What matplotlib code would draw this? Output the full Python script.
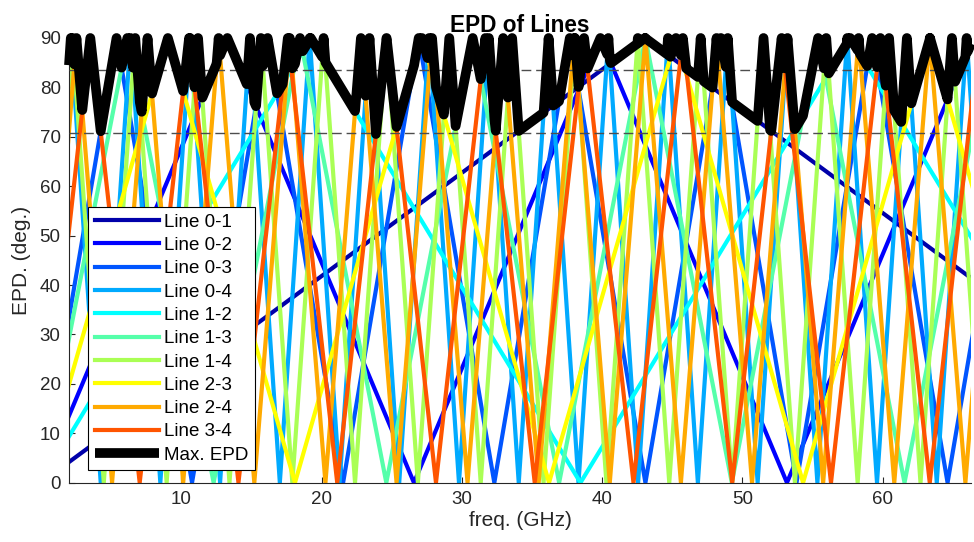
import matplotlib
matplotlib.use("Agg")
import matplotlib.pyplot as plt
import numpy as np

plt.rcParams['font.family'] = ['Liberation Sans', 'DejaVu Sans']

# Turning points (freq in GHz, EPD in deg) of each line pair
f_01 = [0, 43.06, 86.12]
e_01 = [0, 90, 0]
f_02 = [0, 13.29, 26.59, 39.88, 53.18, 66.47]
e_02 = [0, 90, 0, 90, 0, 90]
f_03 = [0, 5.39, 10.77, 16.16, 21.54, 26.93, 32.32, 37.70, 43.09, 48.47, 53.86,
        59.25, 64.63, 70.02]
e_03 = [0, 90, 0, 90, 0, 90, 0, 90, 0, 90, 0, 90, 0, 90]
f_04 = [0, 2.13, 4.26, 6.39, 8.51, 10.64, 12.77, 14.90, 17.03, 19.16, 21.29, 23.42,
        25.54, 27.67, 29.80, 31.93, 34.06, 36.19, 38.32, 40.45, 42.57, 44.70, 46.83,
        48.96, 51.09, 53.22, 55.35, 57.48, 59.60, 61.73, 63.86, 65.99, 68.12]
e_04 = [0, 90, 0, 90, 0, 90, 0, 90, 0, 90, 0, 90, 0, 90, 0, 90, 0, 90, 0, 90, 0,
        90, 0, 90, 0, 90, 0, 90, 0, 90, 0, 90, 0]
f_12 = [0, 19.23, 38.46, 57.69, 76.92]
e_12 = [0, 90, 0, 90, 0]
f_13 = [0, 6.16, 12.31, 18.47, 24.62, 30.78, 36.94, 43.09, 49.25, 55.40, 61.56, 67.72]
e_13 = [0, 90, 0, 90, 0, 90, 0, 90, 0, 90, 0, 90]
f_14 = [0, 2.24, 4.48, 6.72, 8.96, 11.20, 13.44, 15.68, 17.92, 20.15, 22.39, 24.63,
        26.87, 29.11, 31.35, 33.59, 35.83, 38.07, 40.31, 42.55, 44.79, 47.03, 49.27,
        51.51, 53.75, 55.98, 58.22, 60.46, 62.70, 64.94, 67.18]
e_14 = [0, 90, 0, 90, 0, 90, 0, 90, 0, 90, 0, 90, 0, 90, 0, 90, 0, 90, 0, 90, 0,
        90, 0, 90, 0, 90, 0, 90, 0, 90, 0]
f_23 = [0, 9.05, 18.11, 27.16, 36.22, 45.27, 54.33, 63.38, 72.43]
e_23 = [0, 90, 0, 90, 0, 90, 0, 90, 0]
f_24 = [0, 2.53, 5.07, 7.60, 10.14, 12.67, 15.21, 17.74, 20.28, 22.81, 25.35, 27.88,
        30.41, 32.95, 35.48, 38.02, 40.55, 43.09, 45.62, 48.16, 50.69, 53.22, 55.76,
        58.29, 60.83, 63.36, 65.90, 68.43]
e_24 = [0, 90, 0, 90, 0, 90, 0, 90, 0, 90, 0, 90, 0, 90, 0, 90, 0, 90, 0, 90, 0,
        90, 0, 90, 0, 90, 0, 90]
f_34 = [0, 3.52, 7.04, 10.56, 14.08, 17.60, 21.12, 24.64, 28.16, 31.68, 35.20, 38.72,
        42.24, 45.76, 49.28, 52.80, 56.32, 59.84, 63.36, 66.88]
e_34 = [0, 90, 0, 90, 0, 90, 0, 90, 0, 90, 0, 90, 0, 90, 0, 90, 0, 90, 0, 90]

labels = ['Line 0-1', 'Line 0-2', 'Line 0-3', 'Line 0-4', 'Line 1-2',
          'Line 1-3', 'Line 1-4', 'Line 2-3', 'Line 2-4', 'Line 3-4']
freqs = [f_01, f_02, f_03, f_04, f_12, f_13, f_14, f_23, f_24, f_34]
epds = [e_01, e_02, e_03, e_04, e_12, e_13, e_14, e_23, e_24, e_34]

f_min, f_max = 2.0, 66.3
ref_levels = [83.6, 70.7]
x_ticks = [10, 20, 30, 40, 50, 60]
y_ticks = [0, 10, 20, 30, 40, 50, 60, 70, 80, 90]

# MATLAB jet(10)
colors = [(0, 0, 0.6667), (0, 0, 1), (0, 0.3333, 1), (0, 0.6667, 1), (0, 1, 1),
          (0.3333, 1, 0.6667), (0.6667, 1, 0.3333), (1, 1, 0), (1, 0.6667, 0),
          (1, 0.3333, 0)]

fig = plt.figure(figsize=(9.74, 5.42), dpi=100)
ax = fig.add_axes([69/974, 1 - 482.7/542, (971 - 69)/974, (482.7 - 38)/542])

for f, e, c, lab in zip(freqs, epds, colors, labels):
    ax.plot(f, e, color=c, lw=3.0, label=lab, zorder=2,
            solid_joinstyle='round')

# maximum EPD over all lines
fgrid = np.linspace(f_min, f_max, 6431)
stack = np.vstack([np.interp(fgrid, f, e) for f, e in zip(freqs, epds)])
max_epd = stack.max(axis=0)

for lvl in ref_levels:
    ax.axhline(lvl, color='#4d4d4d', lw=1.0, ls=(0, (7, 3.5)), zorder=3)

ax.plot(fgrid, max_epd, color='black', lw=7, label='Max. EPD', zorder=4,
        clip_on=False, solid_joinstyle='round', solid_capstyle='butt')

ax.set_xlim(f_min, f_max)
ax.set_ylim(0, 90)
ax.set_xticks(x_ticks)
ax.set_yticks(y_ticks)
ax.tick_params(direction='in', length=4, width=0.8, labelsize=13.5,
               colors='#262626', pad=6)
for s in ['top', 'right']:
    ax.spines[s].set_visible(False)
for s in ['left', 'bottom']:
    ax.spines[s].set_color('#262626')
    ax.spines[s].set_linewidth(0.8)

ax.set_xlabel('freq. (GHz)', fontsize=15, color='#262626', labelpad=2)
ax.set_ylabel('EPD. (deg.)', fontsize=15, color='#262626', labelpad=6)
ax.set_title('EPD of Lines', fontsize=16.3, fontweight='bold', pad=4)

leg = ax.legend(loc='upper left', bbox_to_anchor=((88 - 69)/902, (482.7 - 207)/444.7),
                borderaxespad=0, fontsize=13.5, handlelength=3.45,
                handletextpad=0.28, labelspacing=0.33, borderpad=0.35,
                fancybox=False, framealpha=1, edgecolor='black')
leg.get_frame().set_linewidth(0.8)
leg.set_zorder(10)

fig.savefig('out.png', dpi=100)
